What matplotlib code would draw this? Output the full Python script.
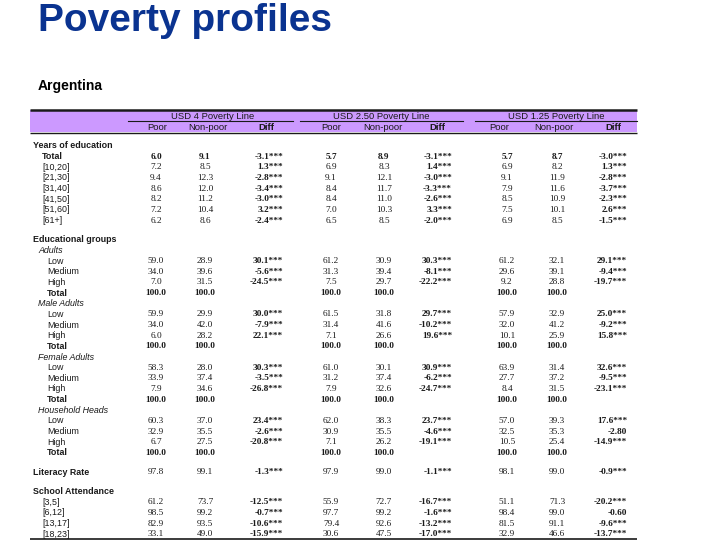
import matplotlib.pyplot as plt
from matplotlib.patches import Rectangle

# ---------------------------------------------------------------------------
# data
# ---------------------------------------------------------------------------
row_labels = ["Years of education", "Total", "[10,20]", "[21,30]", "[31,40]",
              "[41,50]", "[51,60]", "[61+]", "",
              "Educational groups", "Adults", "Low", "Medium", "High", "Total",
              "Male Adults", "Low", "Medium", "High", "Total",
              "Female Adults", "Low", "Medium", "High", "Total",
              "Household Heads", "Low", "Medium", "High", "Total", "",
              "Literacy Rate", "",
              "School Attendance", "[3,5]", "[6,12]", "[13,17]", "[18,23]"]

row_kind = ["head", "total", "item", "item", "item", "item", "item", "item", "gap",
            "head", "group", "sub", "sub", "sub", "subtotal",
            "group", "sub", "sub", "sub", "subtotal",
            "group", "sub", "sub", "sub", "subtotal",
            "group", "sub", "sub", "sub", "subtotal", "gap",
            "head", "gap",
            "head", "item", "item", "item", "item"]

N = None
poor_4 = [N, 6.0, 7.2, 9.4, 8.6, 8.2, 7.2, 6.2, N,
          N, N, 59.0, 34.0, 7.0, 100.0,
          N, 59.9, 34.0, 6.0, 100.0,
          N, 58.3, 33.9, 7.9, 100.0,
          N, 60.3, 32.9, 6.7, 100.0, N,
          97.8, N,
          N, 61.2, 98.5, 82.9, 33.1]
nonpoor_4 = [N, 9.1, 8.5, 12.3, 12.0, 11.2, 10.4, 8.6, N,
             N, N, 28.9, 39.6, 31.5, 100.0,
             N, 29.9, 42.0, 28.2, 100.0,
             N, 28.0, 37.4, 34.6, 100.0,
             N, 37.0, 35.5, 27.5, 100.0, N,
             99.1, N,
             N, 73.7, 99.2, 93.5, 49.0]
diff_4 = ["", "-3.1***", "1.3***", "-2.8***", "-3.4***", "-3.0***", "3.2***", "-2.4***", "",
          "", "", "30.1***", "-5.6***", "-24.5***", "",
          "", "30.0***", "-7.9***", "22.1***", "",
          "", "30.3***", "-3.5***", "-26.8***", "",
          "", "23.4***", "-2.6***", "-20.8***", "", "",
          "-1.3***", "",
          "", "-12.5***", "-0.7***", "-10.6***", "-15.9***"]

poor_250 = [N, 5.7, 6.9, 9.1, 8.4, 8.4, 7.0, 6.5, N,
            N, N, 61.2, 31.3, 7.5, 100.0,
            N, 61.5, 31.4, 7.1, 100.0,
            N, 61.0, 31.2, 7.9, 100.0,
            N, 62.0, 30.9, 7.1, 100.0, N,
            97.9, N,
            N, 55.9, 97.7, 79.4, 30.6]
nonpoor_250 = [N, 8.9, 8.3, 12.1, 11.7, 11.0, 10.3, 8.5, N,
               N, N, 30.9, 39.4, 29.7, 100.0,
               N, 31.8, 41.6, 26.6, 100.0,
               N, 30.1, 37.4, 32.6, 100.0,
               N, 38.3, 35.5, 26.2, 100.0, N,
               99.0, N,
               N, 72.7, 99.2, 92.6, 47.5]
diff_250 = ["", "-3.1***", "1.4***", "-3.0***", "-3.3***", "-2.6***", "3.3***", "-2.0***", "",
            "", "", "30.3***", "-8.1***", "-22.2***", "",
            "", "29.7***", "-10.2***", "19.6***", "",
            "", "30.9***", "-6.2***", "-24.7***", "",
            "", "23.7***", "-4.6***", "-19.1***", "", "",
            "-1.1***", "",
            "", "-16.7***", "-1.6***", "-13.2***", "-17.0***"]

poor_125 = [N, 5.7, 6.9, 9.1, 7.9, 8.5, 7.5, 6.9, N,
            N, N, 61.2, 29.6, 9.2, 100.0,
            N, 57.9, 32.0, 10.1, 100.0,
            N, 63.9, 27.7, 8.4, 100.0,
            N, 57.0, 32.5, 10.5, 100.0, N,
            98.1, N,
            N, 51.1, 98.4, 81.5, 32.9]
nonpoor_125 = [N, 8.7, 8.2, 11.9, 11.6, 10.9, 10.1, 8.5, N,
               N, N, 32.1, 39.1, 28.8, 100.0,
               N, 32.9, 41.2, 25.9, 100.0,
               N, 31.4, 37.2, 31.5, 100.0,
               N, 39.3, 35.3, 25.4, 100.0, N,
               99.0, N,
               N, 71.3, 99.0, 91.1, 46.6]
diff_125 = ["", "-3.0***", "1.3***", "-2.8***", "-3.7***", "-2.3***", "2.6***", "-1.5***", "",
            "", "", "29.1***", "-9.4***", "-19.7***", "",
            "", "25.0***", "-9.2***", "15.8***", "",
            "", "32.6***", "-9.5***", "-23.1***", "",
            "", "17.6***", "-2.80", "-14.9***", "", "",
            "-0.9***", "",
            "", "-20.2***", "-0.60", "-9.6***", "-13.7***"]

poverty_lines = ["USD 4 Poverty Line", "USD 2.50 Poverty Line", "USD 1.25 Poverty Line"]
sub_headers = ["Poor", "Non-poor", "Diff"]
blocks = [(poor_4, nonpoor_4, diff_4),
          (poor_250, nonpoor_250, diff_250),
          (poor_125, nonpoor_125, diff_125)]

# ---------------------------------------------------------------------------
# layout (pixels on a 720x540 canvas)
# ---------------------------------------------------------------------------
SANS = "Liberation Sans"
SERIF = "Liberation Serif"
FS = 6.4
BAND = "#CC99FF"
INK = "#1a1a1a"

block_span = [(128, 293), (300, 463), (475, 637)]
poor_x = [156, 331, 507]
nonpoor_x = [205, 384, 557]
diff_right = [283, 452, 627]
head_x = [(157, 208, 266), (331, 383, 437), (499, 554, 613)]

fig = plt.figure(figsize=(7.2, 5.4), dpi=100)
ax = fig.add_axes([0, 0, 1, 1])
ax.set_xlim(0, 720)
ax.set_ylim(540, 0)
ax.axis("off")

# title
ax.text(38, 21, "Poverty profiles", fontsize=28, fontweight="bold", color="#0a3390",
        family=SANS, va="center", ha="left")
ax.text(38, 86, "Argentina", fontsize=10, fontweight="bold", color="black",
        family=SANS, va="center", ha="left")

# header band and rules
ax.add_patch(Rectangle((30, 110), 607, 22, color=BAND, lw=0))
ax.plot([30, 637], [110, 110], color=INK, lw=1.8, solid_capstyle="butt")
ax.plot([30, 637], [132.5, 132.5], color=INK, lw=1.0, solid_capstyle="butt")
ax.plot([30, 637], [538.5, 538.5], color=INK, lw=1.2, solid_capstyle="butt")

for i, name in enumerate(poverty_lines):
    x0, x1 = block_span[i]
    ax.text((x0 + x1) / 2 + (2 if i == 0 else 0), 116.5, name, fontsize=6.8,
            family=SANS, ha="center", va="center", color=INK)
    ax.plot([x0, x1], [121, 121], color=INK, lw=0.8)
    for j, sh in enumerate(sub_headers):
        ax.text(head_x[i][j], 127.5, sh, fontsize=6.8, family=SANS,
                fontweight="bold" if sh == "Diff" else "normal",
                ha="center", va="center", color=INK)

# rows
step = 10.65
gap = 8.7
y = 146
for k, (lab, kind) in enumerate(zip(row_labels, row_kind)):
    if kind == "gap":
        y += gap
        continue
    if kind == "head":
        ax.text(33, y, lab, fontsize=FS, fontweight="bold", family=SANS,
                ha="left", va="center", color=INK)
    elif kind == "group":
        ax.text(38, y, lab, fontsize=FS, style="italic", family=SANS,
                ha="left", va="center", color=INK)
    elif kind == "total":
        ax.text(42, y, lab, fontsize=FS, fontweight="bold", family=SANS,
                ha="left", va="center", color=INK)
    elif kind == "item":
        ax.text(42, y, lab, fontsize=FS, family=SANS,
                ha="left", va="center", color=INK)
    elif kind == "sub":
        ax.text(47, y, lab, fontsize=FS, family=SANS,
                ha="left", va="center", color=INK)
    elif kind == "subtotal":
        ax.text(47, y, lab, fontsize=FS, fontweight="bold", family=SANS,
                ha="left", va="center", color=INK)

    bold = kind in ("total", "subtotal")
    for i, (poor, nonpoor, diff) in enumerate(blocks):
        w = "bold" if bold else "normal"
        if poor[k] is not None:
            ax.text(poor_x[i], y, f"{poor[k]:.1f}", fontsize=FS + 0.3, family=SERIF,
                    fontweight=w, ha="center", va="center", color=INK)
        if nonpoor[k] is not None:
            ax.text(nonpoor_x[i], y, f"{nonpoor[k]:.1f}", fontsize=FS + 0.3, family=SERIF,
                    fontweight=w, ha="center", va="center", color=INK)
        if diff[k]:
            ax.text(diff_right[i], y, diff[k], fontsize=FS + 0.3, family=SERIF,
                    fontweight="bold", ha="right", va="center", color=INK)
    y += step

fig.savefig("out.png", dpi=100)
plt.close(fig)
